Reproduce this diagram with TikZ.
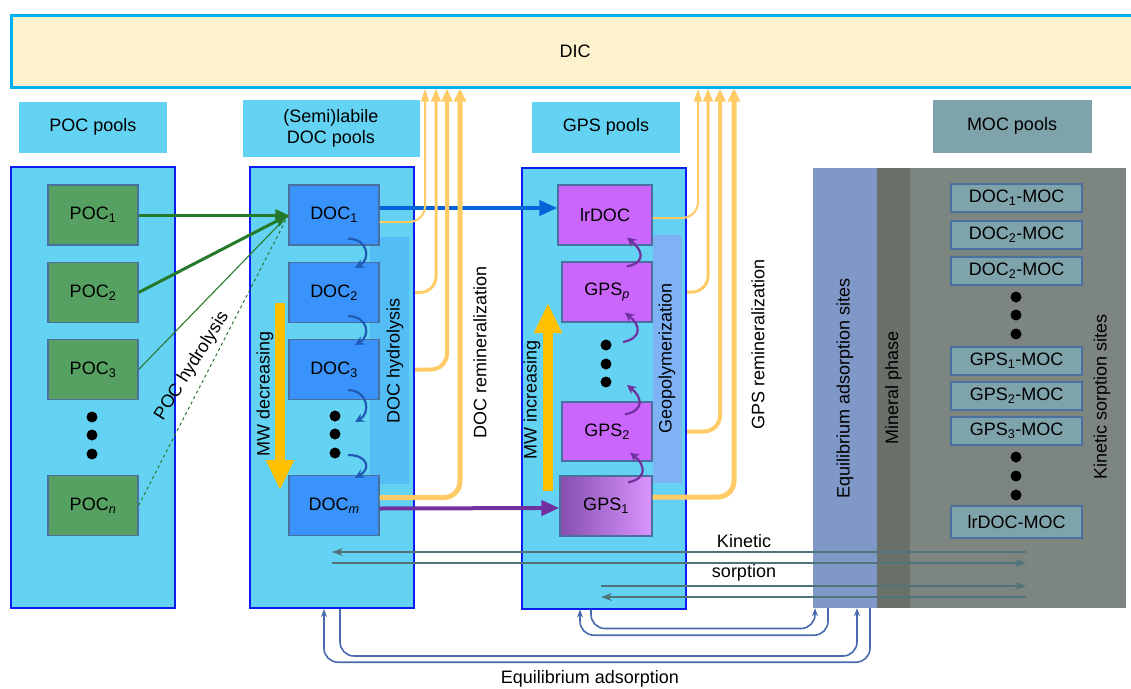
\documentclass[tikz,border=0pt]{standalone}
\usepackage{fontspec}
\setmainfont{Liberation Sans}
\usetikzlibrary{arrows.meta,calc}

\definecolor{poolcyan}{HTML}{64D3F3}
\definecolor{pureblue}{HTML}{0A1EF0}
\definecolor{dicfill}{HTML}{FEF1CD}
\definecolor{dicedge}{HTML}{00B0F0}
\definecolor{boxedge}{HTML}{4A70A0}
\definecolor{pocgreen}{HTML}{56A062}
\definecolor{arrowgreen}{HTML}{257A2A}
\definecolor{docblue}{HTML}{3A93FB}
\definecolor{hydroband}{HTML}{53BDF6}
\definecolor{curlblue}{HTML}{1F5BB5}
\definecolor{flowblue}{HTML}{0563DA}
\definecolor{gpsviolet}{HTML}{CB66FD}
\definecolor{geoband}{HTML}{7EB2F5}
\definecolor{flowpurple}{HTML}{7030A0}
\definecolor{reminorange}{HTML}{FFCB66}
\definecolor{mworange}{HTML}{FFC000}
\definecolor{eqband}{HTML}{7F98C7}
\definecolor{mineral}{HTML}{696F69}
\definecolor{kinregion}{HTML}{7C8580}
\definecolor{mocfill}{HTML}{7FA3AA}
\definecolor{kinline}{HTML}{4F7378}
\definecolor{eqline}{HTML}{4A6AAE}

\begin{document}
\begin{tikzpicture}[x=1pt,y=-1pt,
    every node/.style={font=\fontsize{18}{21}\selectfont},
    pool/.style={draw=pureblue,line width=2pt,fill=poolcyan,minimum width=164pt,minimum height=441pt,inner sep=0},
    header/.style={fill=poolcyan,minimum width=148pt,minimum height=51pt,align=center,inner sep=0},
    box/.style={draw=boxedge,line width=1.2pt,minimum width=90pt,minimum height=60pt,inner sep=0},
    mocbox/.style={draw=boxedge,line width=1.2pt,fill=mocfill,minimum width=131pt,minimum height=28pt,inner sep=0},
    dot/.style={circle,fill=black,minimum size=11pt,inner sep=0},
    remin/.style={draw=reminorange,rounded corners=16pt,-{Triangle[length=13pt,width=5pt 1.4]}},
    curl/.style={line width=2.2pt,-{Stealth[length=9pt,width=9pt]}},
    kin/.style={draw=kinline,line width=2.2pt},
    eqarrow/.style={draw=eqline,line width=1.6pt,rounded corners=14pt,-{Stealth[length=8pt,width=6pt]}},
    bigflow/.style={line width=4pt,-{Triangle[length=18pt,width=15pt]}},
    mwarrow/.style={draw=mworange,line width=10pt,-{Triangle[length=30pt,width=26pt]}}]
    \useasboundingbox (0,0) rectangle (1131,688);

    % carbon reservoir and headers
    \node[draw=dicedge,line width=3pt,fill=dicfill,minimum width=1128pt,minimum height=72pt] (DIC) at (575,51) {DIC};
    \node[header] (POChead) at (93,127) {POC pools};
    \node[header,minimum width=177pt,minimum height=57pt] (DOChead) at (331,128) {(Semi)labile\\DOC pools};
    \node[header] (GPShead) at (606,127) {GPS pools};
    \node[header,fill=mocfill,minimum width=159pt,minimum height=53pt] (MOChead) at (1012,126) {MOC pools};

    \node[pool] (POCpool) at (93,387.5) {};
    \node[pool] (DOCpool) at (332,387.5) {};
    \node[pool] (GPSpool) at (604,388) {};

    % mineral phase
    \node[fill=eqband,minimum width=64pt,minimum height=440pt,inner sep=0] (eqsite) at (845,388) {};
    \node[fill=mineral,minimum width=33pt,minimum height=440pt,inner sep=0] (minph) at (893.5,388) {};
    \node[fill=kinregion,minimum width=216pt,minimum height=440pt,inner sep=0] (kinsite) at (1018,388) {};
    \node[rotate=90] at (eqsite.center) {Equilibrium adsorption sites};
    \node[rotate=90] at (minph.center) {Mineral phase};
    \node[rotate=90] at (1102,397) {Kinetic sorption sites};

    \node[mocbox] (mD1) at (1016.5,198) {DOC\textsubscript{1}-MOC};
    \node[mocbox] (mD2) at (1016.5,235) {DOC\textsubscript{2}-MOC};
    \node[mocbox] (mD3) at (1016.5,271) {DOC\textsubscript{2}-MOC};
    \node[mocbox] (mG1) at (1016.5,361) {GPS\textsubscript{1}-MOC};
    \node[mocbox] (mG2) at (1016.5,396) {GPS\textsubscript{2}-MOC};
    \node[mocbox] (mG3) at (1016.5,431) {GPS\textsubscript{3}-MOC};
    \node[mocbox,minimum height=32pt] (mLr) at (1016.5,522) {lrDOC-MOC};
    \foreach \y in {297,315,334,457,476,495}
        \node[dot] at (1016,\y) {};

    % bands behind the boxes
    \node[fill=hydroband,minimum width=39pt,minimum height=247pt,inner sep=0] (hydro) at (389.5,360.5) {};
    \node[fill=geoband,minimum width=29pt,minimum height=248pt,inner sep=0] (geo) at (667.5,359) {};
    \node[rotate=90] at (395,361) {DOC hydrolysis};
    \node[rotate=90] at (667,358) {Geopolymerization};

    % POC boxes
    \node[box,fill=pocgreen] (POC1) at (93,215) {POC\textsubscript{1}};
    \node[box,fill=pocgreen] (POC2) at (93,292.5) {POC\textsubscript{2}};
    \node[box,fill=pocgreen] (POC3) at (93,369.5) {POC\textsubscript{3}};
    \node[box,fill=pocgreen] (POCn) at (93,505.5) {POC\textsubscript{\textit{n}}};
    \foreach \y in {417,435,454}
        \node[dot] at (92,\y) {};

    % DOC boxes
    \node[box,fill=docblue] (DOC1) at (334,215) {DOC\textsubscript{1}};
    \node[box,fill=docblue] (DOC2) at (334,292.5) {DOC\textsubscript{2}};
    \node[box,fill=docblue] (DOC3) at (334,369.5) {DOC\textsubscript{3}};
    \node[box,fill=docblue] (DOCm) at (334,505.5) {DOC\textsubscript{\textit{m}}};
    \node[dot] (dA) at (335,416) {};
    \node[dot] (dB) at (335,434) {};
    \node[dot] (dC) at (335,453) {};

    % GPS boxes
    \node[box,fill=gpsviolet,minimum width=94pt] (lrDOC) at (605,215) {lrDOC};
    \node[box,fill=gpsviolet] (GPSp) at (607,292) {GPS\textsubscript{\textit{p}}};
    \node[box,fill=gpsviolet,minimum height=59pt] (GPS2) at (607,431.5) {GPS\textsubscript{2}};
    \node[box,left color=flowpurple!85,right color=gpsviolet!70!white,minimum width=92pt] (GPS1) at (606,506) {GPS\textsubscript{1}};
    \node[dot] (gA) at (606,345) {};
    \node[dot] (gB) at (606,364) {};
    \node[dot] (gC) at (606,382) {};

    % POC hydrolysis
    \draw[arrowgreen,line width=3pt,-{Triangle[length=13pt,width=11pt]}] (POC1.east) -- (DOC1.west);
    \draw[arrowgreen,line width=3pt,-{Triangle[length=13pt,width=11pt]}] (POC2.east) -- (DOC1.west);
    \draw[arrowgreen,line width=1.1pt] (POC3.east) -- (DOC1.west);
    \draw[arrowgreen,line width=1pt,dashed] (POCn.east) -- (DOC1.west);
    \node[rotate=58] at (192,366) {POC hydrolysis};

    % DOC hydrolysis
    \draw[curlblue,curl] ($(DOC1.south)+(14,-7)$) .. controls +(20,0) and +(16,-9) .. ($(DOC2.north)+(21,6)$);
    \draw[curlblue,curl] ($(DOC2.south)+(14,-7)$) .. controls +(20,0) and +(16,-9) .. ($(DOC3.north)+(21,6)$);
    \draw[curlblue,curl] ($(DOC3.south)+(14,-10)$) .. controls +(20,0) and +(16,-9) .. ($(dA)+(20,6)$);
    \draw[curlblue,curl] ($(dC)+(13,2)$) .. controls +(20,0) and +(16,-9) .. ($(DOCm.north)+(21,3)$);
    \draw[mwarrow] (280,303) -- (280,490);
    \node[rotate=90] at (265,394) {MW decreasing};

    % geopolymerization
    \draw[flowpurple,curl] ($(GPS1.north)+(22,7)$) .. controls +(20,-4) and +(15,12) .. ($(GPS2.south)+(23,-9)$);
    \draw[flowpurple,curl] ($(GPS2.north)+(18,13)$) .. controls +(20,-4) and +(15,12) .. ($(gC)+(21,3)$);
    \draw[flowpurple,curl] ($(gA)+(17,-3)$) .. controls +(20,-4) and +(15,12) .. ($(GPSp.south)+(18,-10)$);
    \draw[flowpurple,curl] ($(GPSp.north)+(20,5)$) .. controls +(20,-4) and +(15,12) .. ($(lrDOC.south)+(22,-8)$);
    \draw[mwarrow] (548,491) -- (548,303);
    \node[rotate=90] at (532,400) {MW increasing};

    % transfers between pools
    \draw[flowblue,bigflow] ($(DOC1.east)+(0,-7)$) -- ($(lrDOC.west)+(0,-7)$);
    \draw[flowpurple,bigflow] ($(DOCm.east)+(0,3)$) -- ($(GPS1.west)+(0,2)$);

    % remineralization to DIC
    \draw[remin,line width=2pt] ($(DOC1.east)+(0,7)$) -| ([xshift=-150pt]DIC.south);
    \draw[remin,line width=3pt] (DOCpool.east |- DOC2) -| ([xshift=-139pt]DIC.south);
    \draw[remin,line width=4pt] (DOCpool.east |- DOC3) -| ([xshift=-128pt]DIC.south);
    \draw[remin,line width=5pt] ($(DOCm.east)+(0,-8)$) -| ([xshift=-115pt]DIC.south);
    \draw[remin,line width=2pt] ($(lrDOC.east)+(0,3)$) -| ([xshift=123pt]DIC.south);
    \draw[remin,line width=3pt] (GPSpool.east |- GPSp) -| ([xshift=133pt]DIC.south);
    \draw[remin,line width=4pt] (GPSpool.east |- GPS2) -| ([xshift=145pt]DIC.south);
    \draw[remin,line width=5pt] ($(GPS1.east)+(0,-9)$) -| ([xshift=159pt]DIC.south);
    \node[rotate=90] at (480,352) {DOC remineralization};
    \node[rotate=90] at (758,344) {GPS remineralization};

    % kinetic sorption
    \coordinate (kinE) at (1026,0);
    \draw[kin,-{Stealth[length=11pt,width=8pt]}] (kinE |- 0,552) -- (DOCpool.center |- 0,552);
    \draw[kin,-{Stealth[length=11pt,width=8pt]}] (DOCpool.center |- 0,563) -- (kinE |- 0,563);
    \draw[kin,-{Stealth[length=11pt,width=8pt]}] ([xshift=-3pt]GPSpool.center |- 0,586) -- (kinE |- 0,586);
    \draw[kin,-{Stealth[length=11pt,width=8pt]}] (kinE |- 0,597) -- ([xshift=-3pt]GPSpool.center |- 0,597);
    \node at (744,541) {Kinetic};
    \node at (744,573) {sorption};

    % equilibrium adsorption
    \draw[eqarrow] ([xshift=25pt]eqsite.south) -- ++(0,54) -| ([xshift=-8pt]DOCpool.south);
    \draw[eqarrow] ([xshift=8pt]DOCpool.south) -- ++(0,47) -| ([xshift=12pt]eqsite.south);
    \draw[eqarrow] ([xshift=-17pt]eqsite.south) -- ++(0,27) -| ([xshift=-24pt]GPSpool.south);
    \draw[eqarrow] ([xshift=-13pt]GPSpool.south) -- ++(0,19) -| ([xshift=-30pt]eqsite.south);
    \node at (590,679) {Equilibrium adsorption};
\end{tikzpicture}
\end{document}
